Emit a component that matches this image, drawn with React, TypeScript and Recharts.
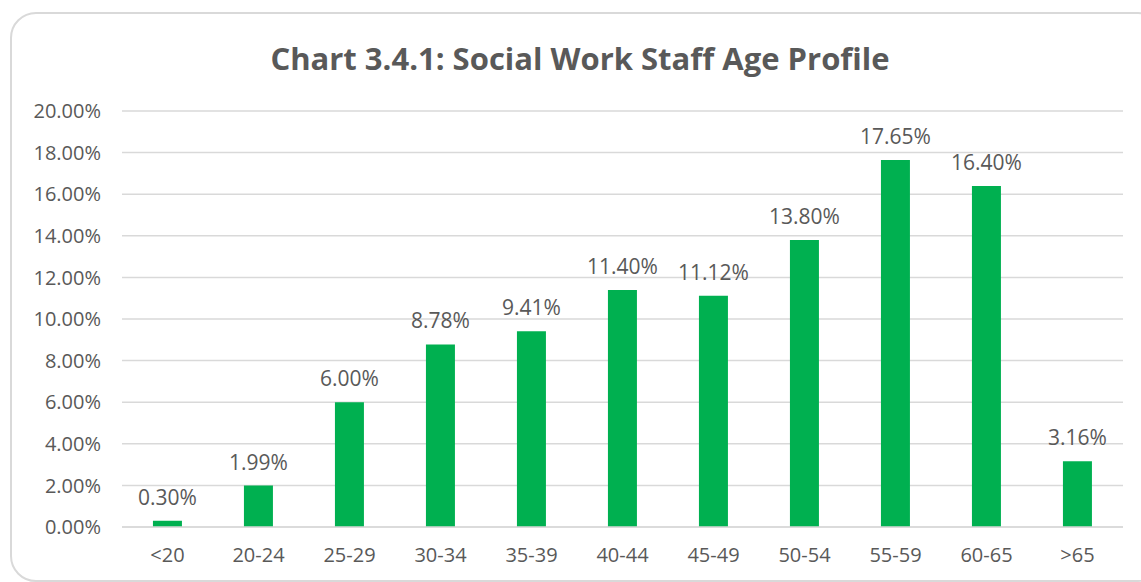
import { BarChart, Bar, XAxis, YAxis, CartesianGrid, LabelList } from 'recharts';

const ageGroups = ['<20', '20-24', '25-29', '30-34', '35-39', '40-44', '45-49', '50-54', '55-59', '60-65', '>65'];
const staffShare = [0.3, 1.99, 6.0, 8.78, 9.41, 11.4, 11.12, 13.8, 17.65, 16.4, 3.16];
const yTicks = [0, 2, 4, 6, 8, 10, 12, 14, 16, 18, 20];

const data = ageGroups.map((age, i) => ({ age, value: staffShare[i] }));

const font = '"Open Sans", sans-serif';
const textColor = '#595959';

export default function App() {
  return (
    <div style={{ position: 'absolute', left: 0, top: 0, width: 1141, height: 582, overflow: 'hidden', background: '#fff', fontFamily: font }}>
      <div
        style={{
          position: 'absolute',
          left: 10,
          top: 12,
          width: 1150,
          height: 566,
          border: '2px solid #d9d9d9',
          borderRadius: 26,
        }}
      />
      <div
        style={{
          position: 'absolute',
          left: 0,
          width: 1160,
          top: 36,
          textAlign: 'center',
          fontSize: 31,
          fontWeight: 700,
          color: textColor,
          lineHeight: '44px',
        }}
      >
        Chart 3.4.1: Social Work Staff Age Profile
      </div>
      <div style={{ position: 'absolute', left: 0, top: 0 }}>
        <BarChart width={1141} height={582} data={data} margin={{ top: 111, right: 18, bottom: 0, left: 0 }} barCategoryGap="34%">
          <CartesianGrid vertical={false} stroke="#d9d9d9" strokeWidth={1.5} />
          <XAxis
            dataKey="age"
            height={55}
            tickLine={false}
            tickSize={0}
            tickMargin={21}
            axisLine={{ stroke: '#d9d9d9', strokeWidth: 1.5 }}
            tick={{ fill: textColor, fontSize: 20, fontFamily: font }}
          />
          <YAxis
            width={122}
            domain={[0, 20]}
            ticks={yTicks}
            interval={0}
            tickLine={false}
            tickSize={0}
            axisLine={false}
            tickMargin={21}
            tickFormatter={(v: number) => `${v.toFixed(2)}%`}
            tick={{ fill: textColor, fontSize: 20, fontFamily: font }}
          />
          <Bar dataKey="value" fill="#00b050" isAnimationActive={false}>
            <LabelList
              dataKey="value"
              position="top"
              offset={16}
              formatter={(v: number) => `${v.toFixed(2)}%`}
              style={{ fill: textColor, fontSize: 21, fontFamily: font }}
            />
          </Bar>
        </BarChart>
      </div>
    </div>
  );
}
